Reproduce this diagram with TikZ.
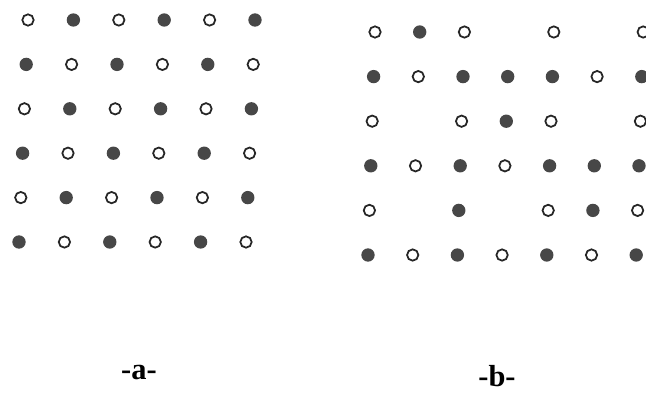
\documentclass[tikz,border=0pt]{standalone}
\usepackage{fontspec}
\setmainfont{Liberation Serif}
\tikzset{every picture/.style={line width=0.75pt}}
\tikzset{
  dot 0/.style={circle,draw=black!85,line width=1.5pt,fill=white,minimum size=0.34cm,inner sep=0pt},
  dot 1/.style={circle,fill=black!72,minimum size=0.40cm,inner sep=0pt},
  caption/.style={font=\fontsize{26}{26}\selectfont\bfseries}
}

\begin{document}
\begin{tikzpicture}[x=0.03cm,y=-0.03cm]
    \clip (0,0) rectangle (646,392);

    % -a- : checkerboard, open dot top left
    \foreach \r in {1,...,6}
      \foreach \c in {1,...,6} {
        \pgfmathtruncatemacro{\k}{mod(\r+\c,2)}
        \node[dot \k] (a-\r-\c) at ({28+45.4*(\c-1)-1.8*(\r-1)},{20+44.4*(\r-1)}) {};
      }

    % -b- : same lattice with some sites empty (0 open, 1 filled)
    \foreach \r/\cols in {1/{1/0,2/1,3/0,5/0,7/0},
                          2/{1/1,2/0,3/1,4/1,5/1,6/0,7/1},
                          3/{1/0,3/0,4/1,5/0,7/0},
                          4/{1/1,2/0,3/1,4/0,5/1,6/1,7/1},
                          5/{1/0,3/1,5/0,6/1,7/0},
                          6/{1/1,2/0,3/1,4/0,5/1,6/0,7/1}}
      \foreach \c/\k in \cols
        \node[dot \k] (b-\r-\c) at ({375+44.7*(\c-1)-1.4*(\r-1)},{32+44.6*(\r-1)}) {};

    % captions
    \node[caption] (labela) at (139,372) {-a-};
    \node[caption] (labelb) at (497,376) {-b-};
\end{tikzpicture}
\end{document}
